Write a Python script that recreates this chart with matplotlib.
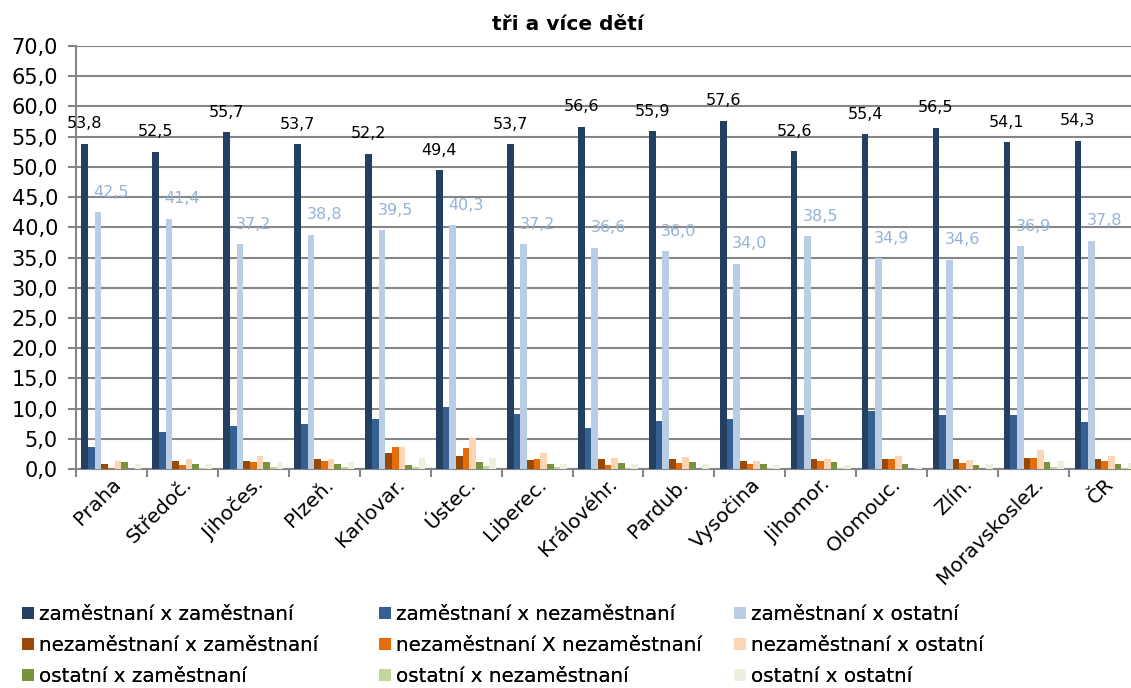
import numpy as np
import matplotlib
matplotlib.use("Agg")
import matplotlib.pyplot as plt
from matplotlib.ticker import FixedLocator

plt.rcParams['font.family'] = ['DejaVu Sans']

categories = ["Praha", "Středoč.", "Jihočes.", "Plzeň.", "Karlovar.", "Ústec.", "Liberec.",
              "Královéhr.", "Pardub.", "Vysočina", "Jihomor.", "Olomouc.", "Zlín.",
              "Moravskoslez.", "ČR"]

zam_zam = [53.8, 52.5, 55.7, 53.7, 52.2, 49.4, 53.7, 56.6, 55.9, 57.6, 52.6, 55.4, 56.5, 54.1, 54.3]
zam_nez = [3.6, 6.1, 7.1, 7.4, 8.3, 10.3, 9.1, 6.8, 8.0, 8.3, 8.9, 9.6, 8.9, 8.9, 7.8]
zam_ost = [42.5, 41.4, 37.2, 38.8, 39.5, 40.3, 37.2, 36.6, 36.0, 34.0, 38.5, 34.9, 34.6, 36.9, 37.8]
nez_zam = [0.9, 1.3, 1.3, 1.6, 2.7, 2.2, 1.5, 1.6, 1.6, 1.4, 1.7, 1.7, 1.6, 1.8, 1.6]
nez_nez = [0.1, 0.7, 1.2, 1.4, 3.7, 3.4, 1.7, 0.7, 1.0, 0.9, 1.3, 1.7, 1.0, 1.9, 1.3]
nez_ost = [1.3, 1.6, 2.1, 1.6, 3.6, 5.2, 2.6, 1.9, 2.0, 1.4, 1.6, 2.2, 1.5, 3.2, 2.1]
ost_zam = [1.2, 0.9, 1.2, 0.8, 0.7, 1.1, 0.9, 1.0, 1.1, 0.8, 1.1, 0.9, 0.6, 1.1, 0.9]
ost_nez = [0.0, 0.2, 0.3, 0.3, 0.4, 0.5, 0.3, 0.2, 0.0, 0.1, 0.1, 0.0, 0.0, 0.3, 0.2]
ost_ost = [0.8, 0.8, 1.2, 1.2, 1.8, 1.8, 0.9, 0.9, 0.8, 0.7, 0.7, 0.4, 0.8, 1.3, 1.0]

series_names = ["zaměstnaní x zaměstnaní", "zaměstnaní x nezaměstnaní", "zaměstnaní x ostatní",
                "nezaměstnaní x zaměstnaní", "nezaměstnaní X nezaměstnaní", "nezaměstnaní x ostatní",
                "ostatní x zaměstnaní", "ostatní x nezaměstnaní", "ostatní x ostatní"]
series = [zam_zam, zam_nez, zam_ost, nez_zam, nez_nez, nez_ost, ost_zam, ost_nez, ost_ost]
colors = ["#253F61", "#376092", "#B9CDE5", "#984807", "#E46C0A", "#FCD5B5",
          "#77933C", "#C3D69B", "#EBF1DE"]

yticks = np.arange(0, 75, 5)

fig = plt.figure(figsize=(11.31, 6.88), dpi=100)
ax = fig.add_axes([76 / 1131, 219 / 688, (1140 - 76) / 1131, (642 - 219) / 688])

n = len(categories)
centers = np.arange(n) + 0.5
w = 0.094
bars = []
for i, (vals, col, name) in enumerate(zip(series, colors, series_names)):
    b = ax.bar(centers + (i - 4) * w, vals, width=w, color=col, label=name, zorder=3,
               edgecolor='none')
    bars.append(b)

def fmt(v):
    return f"{v:.1f}".replace('.', ',')

for c, v in zip(centers, zam_zam):
    ax.annotate(fmt(v), (c - 4 * w, v), xytext=(0, 9), textcoords='offset points',
                ha='center', va='bottom', fontsize=11.5, color='black')
for c, v in zip(centers, zam_ost):
    ax.annotate(fmt(v), (c, v), xytext=(0, 9), textcoords='offset points',
                ha='center', va='bottom', fontsize=11.5, color='#95B3D7')

ax.set_xlim(0, n)
ax.set_ylim(0, 70)
ax.set_yticks(yticks)
ax.set_yticklabels([fmt(t) for t in yticks], fontsize=15)
ax.set_xticks(centers)
ax.set_xticklabels(categories, rotation=45, ha='right', rotation_mode='anchor', fontsize=14.5)
ax.tick_params(axis='x', which='major', length=0, pad=4)
ax.xaxis.set_minor_locator(FixedLocator(np.arange(0, n + 1)))
ax.tick_params(axis='x', which='minor', length=6, width=1.5, color='#868686')
ax.tick_params(axis='y', length=6, width=1.5, color='#868686', pad=7)

ax.grid(axis='y', color='#868686', linewidth=1.5, zorder=0)
for s in ['top', 'right']:
    ax.spines[s].set_visible(False)
for s in ['left', 'bottom']:
    ax.spines[s].set_color('#868686')
    ax.spines[s].set_linewidth(1.5)

fig.text(568 / 1131, 1 - 25 / 688, "tři a více dětí", ha='center', va='center',
         fontsize=14.5, fontweight='bold')

col_x = [22 / 1131, 379 / 1131, 734 / 1131]
for k in range(3):
    idx = [k, k + 3, k + 6]
    leg = fig.legend([bars[i] for i in idx], [series_names[i] for i in idx],
                     loc='upper left', bbox_to_anchor=(col_x[k], 1 - 605 / 688),
                     frameon=False, fontsize=14.3, handlelength=0.6, handleheight=0.6,
                     handletextpad=0.25, labelspacing=0.6, borderaxespad=0, borderpad=0)
    fig.add_artist(leg)

fig.savefig("out.png", dpi=100)
